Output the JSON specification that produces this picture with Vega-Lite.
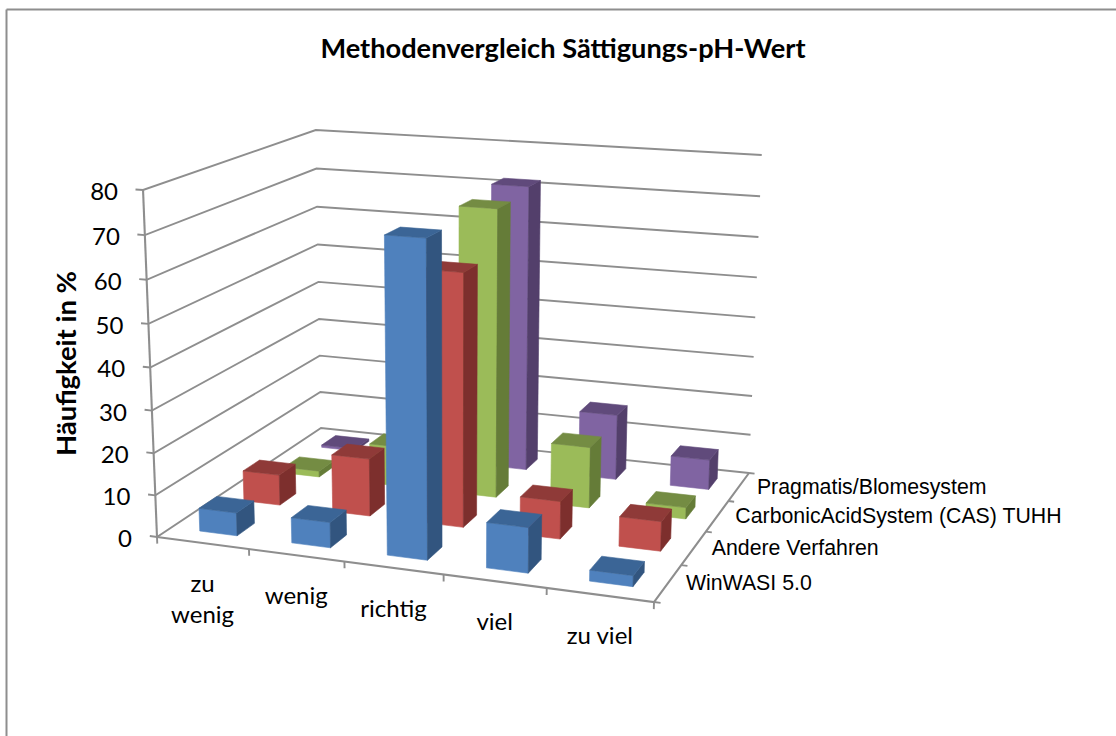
{
"$schema":"https://vega.github.io/schema/vega-lite/v6.json",
"autosize":{"type":"none"},
"width":1110,"height":727,
"padding":{"left":6,"top":9,"right":0,"bottom":0},
"background":"white",
"config":{"view":{"stroke":null}},
"title":{"text":"Methodenvergleich Sättigungs-pH-Wert","font":"Lato","fontSize":27.2,"fontWeight":"bold","color":"#000000","anchor":"middle","offset":-55,"dx":2},
"datasets":{
"werte":[
{"Kategorie":"zu wenig","Verfahren":"Pragmatis/Blomesystem","Wert":0.6},
{"Kategorie":"wenig","Verfahren":"Pragmatis/Blomesystem","Wert":8},
{"Kategorie":"richtig","Verfahren":"Pragmatis/Blomesystem","Wert":71.8},
{"Kategorie":"viel","Verfahren":"Pragmatis/Blomesystem","Wert":16.5},
{"Kategorie":"zu viel","Verfahren":"Pragmatis/Blomesystem","Wert":7.5},
{"Kategorie":"zu wenig","Verfahren":"CarbonicAcidSystem (CAS) TUHH","Wert":1.5},
{"Kategorie":"wenig","Verfahren":"CarbonicAcidSystem (CAS) TUHH","Wert":10},
{"Kategorie":"richtig","Verfahren":"CarbonicAcidSystem (CAS) TUHH","Wert":70.5},
{"Kategorie":"viel","Verfahren":"CarbonicAcidSystem (CAS) TUHH","Wert":15},
{"Kategorie":"zu viel","Verfahren":"CarbonicAcidSystem (CAS) TUHH","Wert":2.8},
{"Kategorie":"zu wenig","Verfahren":"Andere Verfahren","Wert":7.5},
{"Kategorie":"wenig","Verfahren":"Andere Verfahren","Wert":14},
{"Kategorie":"richtig","Verfahren":"Andere Verfahren","Wert":60.2},
{"Kategorie":"viel","Verfahren":"Andere Verfahren","Wert":9},
{"Kategorie":"zu viel","Verfahren":"Andere Verfahren","Wert":7},
{"Kategorie":"zu wenig","Verfahren":"WinWASI 5.0","Wert":5.5},
{"Kategorie":"wenig","Verfahren":"WinWASI 5.0","Wert":6},
{"Kategorie":"richtig","Verfahren":"WinWASI 5.0","Wert":72.5},
{"Kategorie":"viel","Verfahren":"WinWASI 5.0","Wert":10.5},
{"Kategorie":"zu viel","Verfahren":"WinWASI 5.0","Wert":2.5}
],
"kategorien":[{"Kategorie":"zu wenig"},{"Kategorie":"wenig"},{"Kategorie":"richtig"},{"Kategorie":"viel"},{"Kategorie":"zu viel"}],
"verfahren":[{"Verfahren":"WinWASI 5.0"},{"Verfahren":"Andere Verfahren"},{"Verfahren":"CarbonicAcidSystem (CAS) TUHH"},{"Verfahren":"Pragmatis/Blomesystem"}],
"stufen":[{"Stufe":0},{"Stufe":10},{"Stufe":20},{"Stufe":30},{"Stufe":40},{"Stufe":50},{"Stufe":60},{"Stufe":70},{"Stufe":80}]
},
"encoding":{
"x":{"field":"px","type":"quantitative","scale":{"domain":[6,1116],"nice":false,"zero":false},"axis":{"orient":"top","title":null,"labels":false,"ticks":false,"grid":false,"domain":true,"domainColor":"#8e8e8e","domainWidth":2}},
"y":{"field":"py","type":"quantitative","scale":{"domain":[736,9],"nice":false,"zero":false},"axis":{"title":"Häufigkeit in %","labels":false,"ticks":false,"grid":false,"domain":true,"domainColor":"#8e8e8e","domainWidth":2,"titleFont":"Lato","titleFontSize":27.4,"titleFontWeight":"bold","titleColor":"#000000","titleAngle":-90,"titleX":61,"titleY":354,"titleAlign":"center","titleBaseline":"middle"}}
},
"layer":[
{"data":{"name":"stufen"},
"transform":[
{"calculate":"[0,1,2,3]","as":"vs"},{"flatten":["vs"],"as":["v"]},
{"calculate":"datum.v==0?-0.016:(datum.v==3?1:0)","as":"s"},
{"calculate":"datum.v>=2?1:0","as":"t"},
{"calculate":"datum.Stufe/80","as":"z"},
{"calculate":"1-0.0917*datum.s+0.18157*datum.t-0.045*datum.z","as":"w"},
{"calculate":"(437.03*datum.s+222.28*datum.t+157-20.4*datum.z)/datum.w","as":"px"},
{"calculate":"(9.8*datum.s-31.29*datum.t+537+(-355.55+4.4*datum.s-2.41*datum.t)*datum.z)/datum.w","as":"py"}
],
"mark":{"type":"line","color":"#8e8e8e","strokeWidth":1.9},
"encoding":{"detail":{"field":"Stufe"},"order":{"field":"v"}}
},
{"data":{"values":[{"Kante":"Achse","v":0},{"Kante":"Achse","v":1},{"Kante":"Boden","v":2},{"Kante":"Boden","v":3},{"Kante":"Boden","v":4}]},
"transform":[
{"calculate":"datum.v>=3?1:0","as":"s"},
{"calculate":"datum.v==4?1:0","as":"t"},
{"calculate":"datum.v==1?1:0","as":"z"},
{"calculate":"1-0.0917*datum.s+0.18157*datum.t-0.045*datum.z","as":"w"},
{"calculate":"(437.03*datum.s+222.28*datum.t+157-20.4*datum.z)/datum.w","as":"px"},
{"calculate":"(9.8*datum.s-31.29*datum.t+537+(-355.55+4.4*datum.s-2.41*datum.t)*datum.z)/datum.w","as":"py"}
],
"mark":{"type":"line","color":"#8e8e8e","strokeWidth":2.1},
"encoding":{"detail":{"field":"Kante"},"order":{"field":"v"}}
},
{"data":{"values":[{"Teil":0},{"Teil":1},{"Teil":2},{"Teil":3},{"Teil":4},{"Teil":5}]},
"transform":[
{"calculate":"[0,1]","as":"vs"},{"flatten":["vs"],"as":["v"]},
{"calculate":"datum.Teil/5","as":"s"},
{"calculate":"0","as":"t"},
{"calculate":"datum.v==1?-0.02:0","as":"z"},
{"calculate":"1-0.0917*datum.s+0.18157*datum.t-0.045*datum.z","as":"w"},
{"calculate":"(437.03*datum.s+222.28*datum.t+157-20.4*datum.z)/datum.w","as":"px"},
{"calculate":"(9.8*datum.s-31.29*datum.t+537+(-355.55+4.4*datum.s-2.41*datum.t)*datum.z)/datum.w","as":"py"}
],
"mark":{"type":"line","color":"#8e8e8e","strokeWidth":1.9},
"encoding":{"detail":{"field":"Teil"},"order":{"field":"v"}}
},
{"data":{"values":[{"Teil":0},{"Teil":1},{"Teil":2},{"Teil":3},{"Teil":4}]},
"transform":[
{"calculate":"[0,1]","as":"vs"},{"flatten":["vs"],"as":["v"]},
{"calculate":"datum.v==1?1.012:1","as":"s"},
{"calculate":"datum.Teil/4","as":"t"},
{"calculate":"0","as":"z"},
{"calculate":"1-0.0917*datum.s+0.18157*datum.t-0.045*datum.z","as":"w"},
{"calculate":"(437.03*datum.s+222.28*datum.t+157-20.4*datum.z)/datum.w","as":"px"},
{"calculate":"(9.8*datum.s-31.29*datum.t+537+(-355.55+4.4*datum.s-2.41*datum.t)*datum.z)/datum.w","as":"py"}
],
"mark":{"type":"line","color":"#8e8e8e","strokeWidth":1.9},
"encoding":{"detail":{"field":"Teil"},"order":{"field":"v"}}
},
{"data":{"name":"werte"},
"transform":[
{"calculate":"indexof(['zu wenig','wenig','richtig','viel','zu viel'],datum.Kategorie)","as":"i"},
{"calculate":"indexof(['WinWASI 5.0','Andere Verfahren','CarbonicAcidSystem (CAS) TUHH','Pragmatis/Blomesystem'],datum.Verfahren)","as":"j"},
{"calculate":"['front','side','top']","as":"fs"},{"flatten":["fs"],"as":["face"]},
{"calculate":"[0,1,2,3]","as":"vs"},{"flatten":["vs"],"as":["v"]},
{"calculate":"datum.face=='side'?(datum.i+0.725)/5:((datum.v==0||datum.v==3)?(datum.i+0.315)/5:(datum.i+0.725)/5)","as":"s"},
{"calculate":"datum.face=='front'?(datum.j+0.303)/4:(datum.face=='side'?((datum.v==0||datum.v==3)?(datum.j+0.303)/4:(datum.j+0.697)/4):(datum.v<=1?(datum.j+0.303)/4:(datum.j+0.697)/4))","as":"t"},
{"calculate":"(datum.face=='top'||datum.v>=2)?datum.Wert/80:0","as":"z"},
{"calculate":"1-0.0917*datum.s+0.18157*datum.t-0.045*datum.z","as":"w"},
{"calculate":"(437.03*datum.s+222.28*datum.t+157-20.4*datum.z)/datum.w","as":"px"},
{"calculate":"(9.8*datum.s-31.29*datum.t+537+(-355.55+4.4*datum.s-2.41*datum.t)*datum.z)/datum.w","as":"py"},
{"calculate":"datum.j+'-'+datum.face","as":"farbe"},
{"calculate":"datum.Verfahren+'|'+datum.Kategorie+'|'+datum.face","as":"flaeche"}
],
"mark":{"type":"line","interpolate":"linear-closed","strokeWidth":0.6},
"encoding":{
"detail":{"field":"flaeche"},
"order":{"field":"v"},
"fill":{"field":"farbe","type":"nominal","legend":null,"scale":{"domain":["0-front","0-side","0-top","1-front","1-side","1-top","2-front","2-side","2-top","3-front","3-side","3-top"],"range":["#4f81bd","#32557f","#3b6596","#c0504d","#7d2f2d","#8f3a38","#9bbb59","#657c38","#748c43","#8064a2","#533f6b","#604a7b"]}},
"stroke":{"field":"farbe","type":"nominal","legend":null,"scale":{"domain":["0-front","0-side","0-top","1-front","1-side","1-top","2-front","2-side","2-top","3-front","3-side","3-top"],"range":["#4f81bd","#32557f","#3b6596","#c0504d","#7d2f2d","#8f3a38","#9bbb59","#657c38","#748c43","#8064a2","#533f6b","#604a7b"]}}
}
},
{"data":{"name":"stufen"},
"transform":[
{"calculate":"0","as":"s"},{"calculate":"0","as":"t"},
{"calculate":"datum.Stufe/80","as":"z"},
{"calculate":"1-0.0917*datum.s+0.18157*datum.t-0.045*datum.z","as":"w"},
{"calculate":"(437.03*datum.s+222.28*datum.t+157-20.4*datum.z)/datum.w","as":"px"},
{"calculate":"(9.8*datum.s-31.29*datum.t+537+(-355.55+4.4*datum.s-2.41*datum.t)*datum.z)/datum.w","as":"py"}
],
"mark":{"type":"text","font":"Lato","fontSize":24,"align":"right","baseline":"middle","dx":-25,"dy":3,"color":"#000000"},
"encoding":{"text":{"field":"Stufe","type":"quantitative"}}
},
{"data":{"name":"kategorien"},
"transform":[
{"calculate":"indexof(['zu wenig','wenig','richtig','viel','zu viel'],datum.Kategorie)","as":"i"},
{"calculate":"datum.Kategorie=='zu wenig'?'zu\\nwenig':datum.Kategorie","as":"label"},
{"calculate":"(datum.i+0.5)/5","as":"s"},{"calculate":"0","as":"t"},{"calculate":"0","as":"z"},
{"calculate":"1-0.0917*datum.s+0.18157*datum.t-0.045*datum.z","as":"w"},
{"calculate":"(437.03*datum.s+222.28*datum.t+157-20.4*datum.z)/datum.w","as":"px"},
{"calculate":"(9.8*datum.s-31.29*datum.t+537+(-355.55+4.4*datum.s-2.41*datum.t)*datum.z)/datum.w","as":"py"}
],
"mark":{"type":"text","font":"Lato","fontSize":24,"align":"center","baseline":"top","dy":30,"lineBreak":"\n","lineHeight":31,"color":"#000000"},
"encoding":{"text":{"field":"label","type":"nominal"}}
},
{"data":{"name":"verfahren"},
"transform":[
{"calculate":"indexof(['WinWASI 5.0','Andere Verfahren','CarbonicAcidSystem (CAS) TUHH','Pragmatis/Blomesystem'],datum.Verfahren)","as":"j"},
{"calculate":"1","as":"s"},{"calculate":"(datum.j+0.5)/4","as":"t"},{"calculate":"0","as":"z"},
{"calculate":"1-0.0917*datum.s+0.18157*datum.t-0.045*datum.z","as":"w"},
{"calculate":"(437.03*datum.s+222.28*datum.t+157-20.4*datum.z)/datum.w","as":"px"},
{"calculate":"(9.8*datum.s-31.29*datum.t+537+(-355.55+4.4*datum.s-2.41*datum.t)*datum.z)/datum.w","as":"py"}
],
"mark":{"type":"text","font":"Liberation Sans","fontSize":21.3,"align":"left","baseline":"middle","dx":18,"dy":1,"color":"#000000"},
"encoding":{"text":{"field":"Verfahren","type":"nominal"}}
}
]
}
